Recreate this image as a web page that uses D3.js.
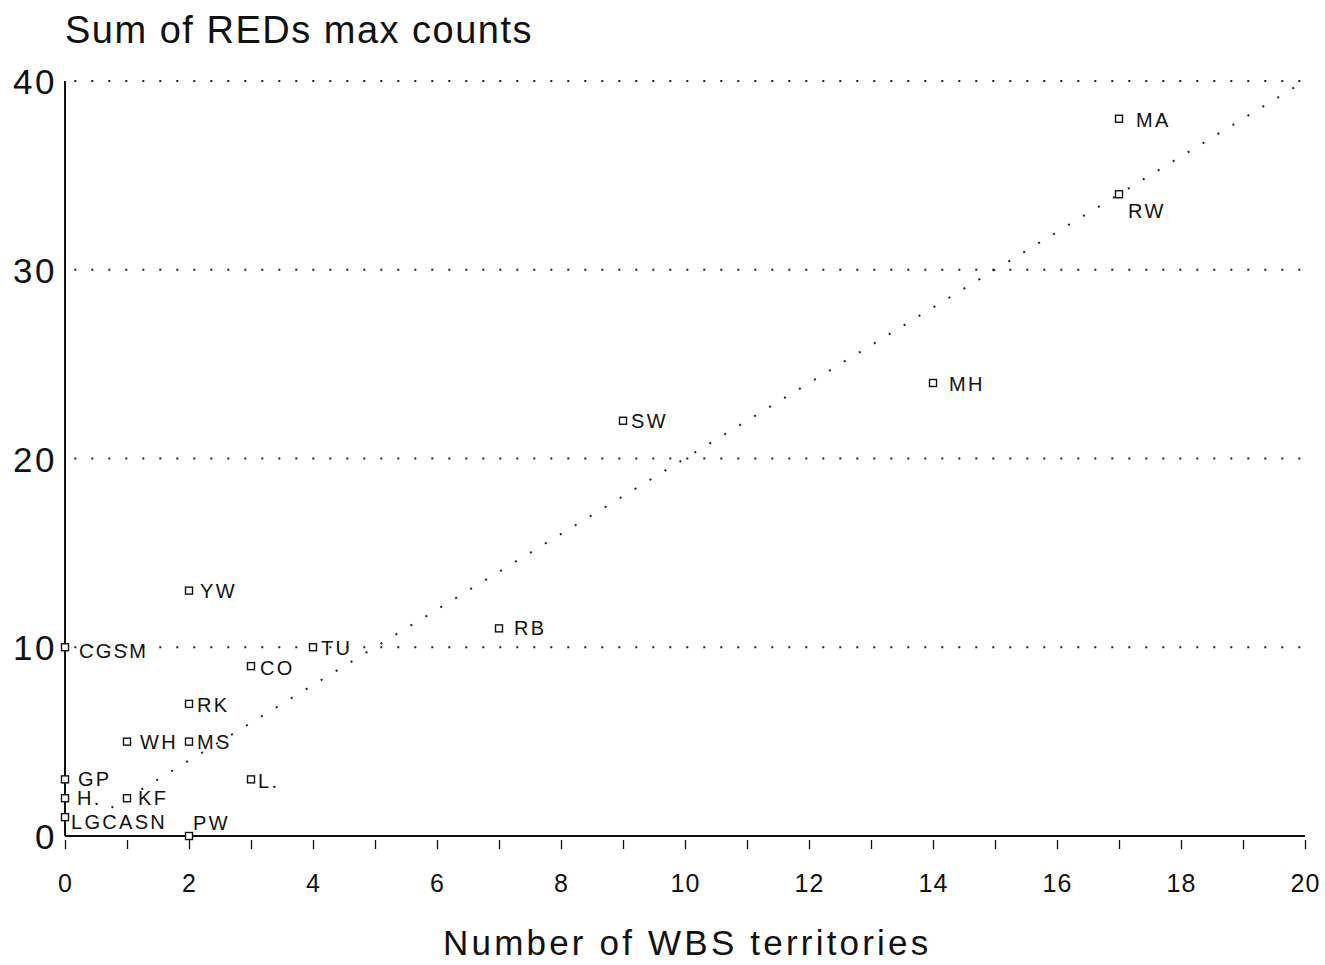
<!DOCTYPE html>
<html lang="en">
<head>
    <meta charset="UTF-8">
    <script src="https://d3js.org/d3.v7.min.js"></script>
    <style>
        body { margin: 0; background: #fff; }
        text { font-family: "Liberation Sans", Arial, sans-serif; fill: #111; }
    </style>
</head>
<body>
<div id="chart"></div>
<script>
    // data
    var labels = ["MA", "RW", "MH", "SW", "RB", "YW", "CGSM", "TU", "CO", "RK", "WH", "MS", "GP", "H.", "KF", "L.", "LGCASN", "PW"];
    var territories = [17, 17, 14, 9, 7, 2, 0, 4, 3, 2, 1, 2, 0, 0, 1, 3, 0, 2];
    var redCounts = [38, 34, 24, 22, 11, 13, 10, 10, 9, 7, 5, 5, 3, 2, 2, 3, 1, 0];

    var xTicks = d3.range(0, 21, 2);
    var yTicks = [0, 10, 20, 30, 40];

    var data = labels.map(function(l, i) {
        return {label: l, x: territories[i], y: redCounts[i]};
    });

    // label nudges (pixels) so text sits like the original
    var nudge = {
        "MA": [17, 1], "RW": [9, 17], "MH": [16, 1], "SW": [8, 0], "RB": [15, -1],
        "YW": [11, 0], "CGSM": [14, 4], "TU": [8, 1], "CO": [9, 2], "RK": [8, 1],
        "WH": [13, 0], "MS": [8, 0], "GP": [13, -1], "H.": [12, 0], "KF": [11, 0],
        "L.": [7, 1], "LGCASN": [6, 5], "PW": [4, -13]
    };

    var width = 1325, height = 965;
    var margin = {top: 81, right: 20, bottom: 129, left: 65};
    var innerW = width - margin.left - margin.right,
        innerH = height - margin.top - margin.bottom;

    var x = d3.scaleLinear().domain([0, 20]).range([0, innerW]);
    var y = d3.scaleLinear().domain([0, 40]).range([innerH, 0]);

    var svg = d3.select("#chart")
        .append("svg")
            .attr("width", width)
            .attr("height", height)
        .append("g")
            .attr("transform", "translate(" + margin.left + "," + margin.top + ")");

    // dotted horizontal grid
    svg.selectAll(".grid")
        .data(yTicks.filter(function(d) { return d > 0; }))
        .enter().append("line")
            .attr("x1", x(0.15)).attr("x2", x(20))
            .attr("y1", function(d) { return y(d); })
            .attr("y2", function(d) { return y(d); })
            .attr("stroke", "#222")
            .attr("stroke-width", 2)
            .attr("stroke-dasharray", "2,15")
            .attr("stroke-linecap", "butt");

    // y = 2x reference line
    svg.append("line")
        .attr("x1", x(0.75)).attr("y1", y(1.5))
        .attr("x2", x(20)).attr("y2", y(40))
        .attr("stroke", "#222")
        .attr("stroke-width", 2)
        .attr("stroke-dasharray", "2,15.5");

    // x axis
    var xAxis = svg.append("g")
        .attr("transform", "translate(0," + innerH + ")")
        .call(d3.axisBottom(x).tickValues(d3.range(0, 21, 1)).tickSize(13)
            .tickFormat(function(d) { return xTicks.indexOf(d) >= 0 ? d : ""; }));
    xAxis.select(".domain").attr("stroke", "#111").attr("stroke-width", 2).attr("d", "M0,0H" + innerW);
    xAxis.selectAll(".tick line").attr("stroke", "#111").attr("stroke-width", 1.3).attr("y1", 4);
    xAxis.selectAll(".tick text").attr("font-size", 25).attr("letter-spacing", 1).attr("dy", 40);

    // y axis
    var yAxis = svg.append("g")
        .call(d3.axisLeft(y).tickValues(yTicks).tickSize(0).tickPadding(8));
    yAxis.select(".domain").attr("stroke", "#111").attr("stroke-width", 2).attr("d", "M0," + innerH + "V0");
    yAxis.selectAll(".tick text").attr("font-size", 35).attr("letter-spacing", 2.5).attr("dy", "0.36em");

    // points
    var pts = svg.selectAll(".pt")
        .data(data)
        .enter().append("g")
            .attr("transform", function(d) { return "translate(" + x(d.x) + "," + y(d.y) + ")"; });

    pts.append("rect")
        .attr("x", -3.5).attr("y", -3.5)
        .attr("width", 7).attr("height", 7)
        .attr("fill", "#fff")
        .attr("stroke", "#111")
        .attr("stroke-width", 1.4);

    pts.append("text")
        .attr("x", function(d) { return nudge[d.label][0]; })
        .attr("y", function(d) { return nudge[d.label][1]; })
        .attr("dy", "0.36em")
        .attr("font-size", 20)
        .attr("letter-spacing", 2.3)
        .text(function(d) { return d.label; });

    // titles
    d3.select("svg").append("text")
        .attr("x", 65).attr("y", 43)
        .attr("font-size", 38)
        .attr("letter-spacing", 1.5)
        .text("Sum of REDs max counts");

    d3.select("svg").append("text")
        .attr("x", 443).attr("y", 955)
        .attr("font-size", 35)
        .attr("letter-spacing", 3.2)
        .text("Number of WBS territories");
</script>
</body>
</html>
